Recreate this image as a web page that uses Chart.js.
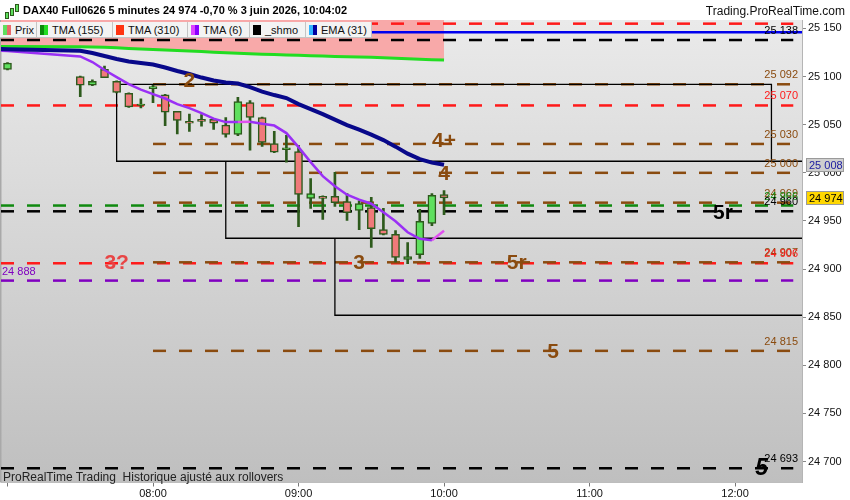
<!DOCTYPE html>
<html>
<head>
<meta charset="utf-8">
<script src="https://cdn.jsdelivr.net/npm/chart.js@4.4.1/dist/chart.umd.min.js"></script>
<style>
html, body { margin: 0; padding: 0; background: #fff; }
#wrap { position: relative; width: 850px; height: 500px; overflow: hidden; font-family: "Liberation Sans", Arial, sans-serif; }
canvas { position: absolute; left: 0; top: 0; }
#icon span { position: absolute; border: 1px solid #2d5a1c; background: #5fe05f; }
#title { position: absolute; left: 23px; top: 4px; font-weight: bold; font-size: 11px; color: #000; white-space: nowrap; }
#site { position: absolute; right: 5px; top: 4px; font-size: 12px; color: #111; white-space: nowrap; }
#legend { position: absolute; left: 0; top: 22px; height: 16px; display: flex; background: #f3f3f3; }
.item { box-sizing: border-box; display: flex; align-items: center; height: 16px; padding-left: 3px; border-right: 1px solid #c4c4c4; border-bottom: 1px solid #c4c4c4; font-size: 11px; color: #111; white-space: nowrap; }
.sw { width: 8px; height: 10px; margin-right: 4px; display: flex; }
.sw i { flex: 1; }
#note { position: absolute; left: 3px; top: 470px; font-size: 12px; font-family: "Liberation Sans Narrow", "Arial Narrow", sans-serif; color: #222; white-space: nowrap; }
</style>
</head>
<body>
<div id="wrap">
  <canvas id="chart" width="850" height="500"></canvas>
  <div id="icon">
    <span style="left:5px;top:12px;width:2px;height:5px"></span>
    <span style="left:10px;top:8px;width:2px;height:6px"></span>
    <span style="left:15px;top:4px;width:2px;height:6px"></span>
  </div>
  <div id="title">DAX40 Full0626 5 minutes 24 974 -0,70 % 3 juin 2026, 10:04:02</div>
  <div id="site">Trading.ProRealTime.com</div>
  <div id="legend">
    <div class="item" style="width:37px"><span class="sw"><i style="background:#5fe05f"></i><i style="background:#e86a6a"></i></span>Prix</div>
    <div class="item" style="width:76px"><span class="sw"><i style="background:#0a8a0a"></i><i style="background:#22dd22"></i></span>TMA (155)</div>
    <div class="item" style="width:75px"><span class="sw"><i style="background:#ff3311"></i><i style="background:#ff3311"></i></span>TMA (310)</div>
    <div class="item" style="width:62px"><span class="sw"><i style="background:#dd44ff"></i><i style="background:#8a00ff"></i></span>TMA (6)</div>
    <div class="item" style="width:56px"><span class="sw"><i style="background:#000"></i><i style="background:#000"></i></span>_shmo</div>
    <div class="item" style="width:66px"><span class="sw"><i style="background:#33b5ff"></i><i style="background:#0000a0"></i></span>EMA (31)</div>
  </div>
  <div id="note">ProRealTime Trading&nbsp; Historique ajusté aux rollovers</div>
</div>
<script>
// 5 minute candles
const candleTimes = ['07:00','07:30','07:35','07:40','07:45','07:50','07:55','08:00','08:05','08:10','08:15','08:20','08:25','08:30','08:35','08:40','08:45','08:50','08:55','09:00','09:05','09:10','09:15','09:20','09:25','09:30','09:35','09:40','09:45','09:50','09:55','10:00'];
const opens  = [25107.5,25100,25091,25107.5,25095,25082.5,25070,25087.5,25081,25064,25053.5,25055.5,25055.5,25049.5,25040,25073,25057.5,25030.5,25024,25022,24973.5,24975.5,24975.5,24970,24961,24964,24941,24936,24910,24915,24947.5,24977.5];
const highs  = [25114.5,25100.5,25096.5,25111,25095.5,25083,25077,25091,25081.5,25064,25061,25060.5,25056,25057.5,25078.5,25075,25058,25043,25039,25028.5,24994,24976,25000.5,24978.5,24971,24974.5,24963,24940,24927.5,24962,24978.5,24981.5];
const lows   = [25107,25079,25090.5,25099,25083,25068,25067.5,25073,25049,25040.5,25043,25048.5,25045,25037,25038.5,25023.5,25027.5,25021,25011,24944,24963,24951.5,24965,24950.5,24941,24922.5,24935.5,24907.5,24905.5,24911,24945,24956.5];
const closes = [25114,25091,25095,25099,25083.5,25068.5,25071.5,25089.5,25063,25054.5,25051.5,25053.5,25051.5,25040,25074,25057.5,25031.5,25021.5,25026,24977.5,24978.5,24973.5,24969,24958.5,24968,24942,24936,24912,24913,24949.5,24976.5,24974];

// indicators
const lineTimes = ['06:55'].concat(candleTimes);
const ema31  = [25128.7,25128.4,25126.9,25124.5,25121.4,25118.3,25115.7,25114.1,25112.5,25109.4,25105.8,25102.7,25099.0,25095.9,25093.8,25092.8,25089.1,25084.4,25080.8,25077.7,25071.4,25066.2,25061.0,25055.3,25049.6,25044.9,25039.7,25034.0,25027.2,25019.9,25014.2,25010.6,25008.3];
const tma6   = [25127.1,25126.6,25120.9,25115.1,25106.8,25099.5,25092.2,25086.5,25081.8,25077.2,25071.4,25067.3,25062.1,25056.3,25052.7,25052.7,25053.0,25051.1,25049.1,25041.3,25026.7,25011.1,24996.5,24986.1,24977.3,24972.1,24967.9,24959.1,24949.7,24938.2,24931.5,24929.9,24939.8];
const tma155 = [25131.3,25131.2,25131.1,25130.8,25130.4,25129.9,25129.3,25128.7,25128.2,25127.7,25127.2,25126.6,25126.0,25125.4,25124.8,25124.3,25123.8,25123.3,25122.9,25122.5,25122.1,25121.7,25121.3,25121.0,25120.7,25120.4,25120.0,25119.6,25119.1,25118.6,25118.1,25117.6,25117.2];
const tma310 = [25192,25192,25191,25191,25190,25190,25190,25189,25189,25189,25188,25188,25188,25187,25187,25187,25186,25186,25186,25185,25185,25185,25184,25184,25184,25183,25183,25183,25182,25182,25182,25181,25181];

// horizontal levels (start null = left edge)
const levelValues = [25155, 25146, 25138, 25092, 25070, 25030, 25000, 24969, 24966, 24960, 24907, 24906, 24888, 24815, 24693];
const levelColors = ['#ff1a1a','#0000ee','#000000','#8a4b0f','#ff1a1a','#8a4b0f','#8a4b0f','#8a4b0f','#108a10','#000000','#8a4b0f','#ff1a1a','#8000c0','#8a4b0f','#000000'];
const levelStarts = [null, null, null, '08:00', null, '08:00', '08:00', '08:00', null, null, '08:00', null, null, '08:00', null];
const levelDashed = [true, false, true, true, true, true, true, true, true, true, true, true, true, true, true];
const levelLabelSide = ['right','none','right','right','right','right','right','right','right','right','right','right','left','right','right'];

// stepped boxes
const boxStarts = ['07:45', '08:30', '09:15'];
const boxTops = [25092, 25012, 24932];
const boxBottoms = [25012, 24932, 24852];
const firstBoxEnd = '12:15';

// hand written marks
const noteTexts  = ['2', '4+', '4', '5r', '3?', '3', '5r', '5', '5'];
const noteTimes  = ['08:15', '10:00', '10:00', '11:55', '07:45', '09:25', '10:30', '10:45', '12:11'];
const noteValues = [25096, 25034, 25000, 24959, 24907, 24907, 24907, 24815, 24694];
const noteColors = ['#8a4b0f','#8a4b0f','#8a4b0f','#000000','#e84545','#8a4b0f','#8a4b0f','#8a4b0f','#000000'];

const xTickTimes = ['07:00', '08:00', '09:00', '10:00', '11:00', '12:00'];
const yTicks = [24700, 24750, 24800, 24850, 24900, 24950, 25000, 25050, 25100, 25150];

const toMin = s => { const p = s.split(':').map(Number); return p[0] * 60 + p[1]; };
const fmt = v => String(Math.round(v)).replace(/\B(?=(\d{3})+(?!\d))/g, ' ');

const X_MIN = 417.32, X_MAX = 747.6;
const Y_MIN = 24678.2, Y_MAX = 25158.8;
const LEVEL_END = toMin('12:24');

const datasets = [];

// lines (drawn on top)
datasets.push({
    label: 'EMA (31)',
    data: lineTimes.map((t, i) => ({ x: toMin(t), y: ema31[i] })),
    borderColor: '#08088a', borderWidth: 4, pointRadius: 0, order: 0
});
datasets.push({
    label: 'TMA (6)',
    data: lineTimes.map((t, i) => ({ x: toMin(t), y: tma6[i] })),
    borderColor: '#9a30f5', borderWidth: 2.5, pointRadius: 0, order: 0,
    segment: { borderColor: c => c.p1.parsed.y > c.p0.parsed.y ? '#e050f0' : '#9a30f5' }
});

// pink band between TMA 310 and TMA 155
datasets.push({
    label: 'TMA (310)',
    data: lineTimes.map((t, i) => ({ x: toMin(t), y: tma310[i] })),
    borderColor: '#ff2200', borderWidth: 2, pointRadius: 0, order: 6,
    fill: '+1', backgroundColor: '#f8a9a9'
});
datasets.push({
    label: 'TMA (155)',
    data: lineTimes.map((t, i) => ({ x: toMin(t), y: tma155[i] })),
    borderColor: '#22dd22', borderWidth: 3, pointRadius: 0, order: 0
});

// candles: wick then body
datasets.push({
    type: 'bar', label: 'wick',
    data: candleTimes.map((t, i) => ({ x: toMin(t), y: [lows[i], highs[i]] })),
    backgroundColor: '#2d5a1c', borderWidth: 0, barThickness: 2, grouped: false, order: 2
});
datasets.push({
    type: 'bar', label: 'Prix',
    data: candleTimes.map((t, i) => ({ x: toMin(t), y: [opens[i], closes[i]] })),
    backgroundColor: ctx => closes[ctx.dataIndex] >= opens[ctx.dataIndex] ? '#5fe05f' : '#f07a7a',
    borderColor: '#2d5a1c', borderWidth: 1.5, borderSkipped: false,
    barThickness: 8, grouped: false, order: 1
});

// levels
levelValues.forEach((v, i) => {
    const start = levelStarts[i] ? toMin(levelStarts[i]) : X_MIN;
    const end = levelDashed[i] ? LEVEL_END : X_MAX;
    datasets.push({
        label: 'level ' + v,
        data: [{ x: start, y: v }, { x: end, y: v }],
        borderColor: levelColors[i], borderWidth: 2.5,
        borderDash: levelDashed[i] ? [13, 13] : [], pointRadius: 0, order: 4
    });
});

// boxes
boxStarts.forEach((s, i) => {
    const pts = [
        { x: X_MAX, y: boxBottoms[i] },
        { x: toMin(s), y: boxBottoms[i] },
        { x: toMin(s), y: boxTops[i] }
    ];
    if (i === 0) {
        pts.push({ x: toMin(firstBoxEnd), y: boxTops[i] });
        pts.push({ x: toMin(firstBoxEnd), y: boxBottoms[i] });
    }
    datasets.push({
        label: 'box ' + i, data: pts,
        borderColor: '#000', borderWidth: 1.3, pointRadius: 0, order: 3
    });
});

const backdrop = {
    id: 'backdrop',
    beforeDraw(chart) {
        const { ctx, chartArea: a } = chart;
        const g = ctx.createLinearGradient(0, a.top, 0, a.bottom);
        g.addColorStop(0, '#eaeaea');
        g.addColorStop(1, '#bfbfbf');
        ctx.save();
        ctx.fillStyle = g;
        ctx.fillRect(a.left, a.top, a.right - a.left, a.bottom - a.top);
        ctx.fillStyle = '#a9a9a9';
        ctx.fillRect(0, a.top, 1.5, a.bottom - a.top);
        ctx.restore();
    }
};

const marks = {
    id: 'marks',
    afterDatasetsDraw(chart) {
        const { ctx, chartArea: a, scales: { x, y } } = chart;
        ctx.save();
        ctx.beginPath();
        ctx.rect(a.left, a.top, a.right - a.left, a.bottom - a.top);
        ctx.clip();
        // level labels
        ctx.font = '11px "Liberation Sans", Arial, sans-serif';
        ctx.textBaseline = 'middle';
        levelValues.forEach((v, i) => {
            const side = levelLabelSide[i];
            if (side === 'none') return;
            ctx.fillStyle = levelColors[i];
            const py = y.getPixelForValue(v) - 9;
            if (side === 'left') {
                ctx.textAlign = 'left';
                ctx.fillText(fmt(v), a.left + 1, py);
            } else {
                ctx.textAlign = 'right';
                ctx.fillText(fmt(v), a.right - 4, py);
            }
        });
        // hand written marks
        ctx.textAlign = 'center';
        noteTexts.forEach((t, i) => {
            const last = i === noteTexts.length - 1;
            ctx.font = (last ? 'italic bold 23px' : 'bold 21px') + ' "Liberation Sans", Arial, sans-serif';
            ctx.fillStyle = noteColors[i];
            ctx.fillText(t, x.getPixelForValue(toMin(noteTimes[i])), y.getPixelForValue(noteValues[i]) + 1);
        });
        ctx.restore();
    },
    afterDraw(chart) {
        const { ctx, chartArea: a, scales: { y } } = chart;
        const boxes = [
            [ema31[ema31.length - 1], '#cfcfcf', '#1a1aa0'],
            [closes[closes.length - 1], '#ffd700', '#000']
        ];
        ctx.save();
        ctx.font = '11px "Liberation Sans", Arial, sans-serif';
        ctx.textBaseline = 'middle';
        ctx.textAlign = 'left';
        boxes.forEach(([v, bg, fg]) => {
            const py = Math.round(y.getPixelForValue(v));
            ctx.fillStyle = bg;
            ctx.fillRect(a.right + 4, py - 7, 38, 14);
            ctx.strokeStyle = '#9a9a9a';
            ctx.lineWidth = 1;
            ctx.strokeRect(a.right + 4.5, py - 6.5, 37, 13);
            ctx.fillStyle = fg;
            ctx.fillText(fmt(v), a.right + 7, py + 0.5);
        });
        ctx.restore();
    }
};

new Chart(document.getElementById('chart').getContext('2d'), {
    type: 'line',
    data: { datasets },
    options: {
        responsive: false,
        animation: false,
        events: [],
        layout: { padding: { left: 1, top: 20, right: 0, bottom: 0 } },
        plugins: { legend: { display: false }, tooltip: { enabled: false } },
        scales: {
            x: {
                type: 'linear', min: X_MIN, max: X_MAX, offset: false,
                afterFit: s => { s.height = 17.5; },
                afterBuildTicks: s => { s.ticks = xTickTimes.map(t => ({ value: toMin(t) })); },
                grid: { drawOnChartArea: false, offset: false, tickLength: 4, color: '#777' },
                border: { color: '#bdbdbd' },
                ticks: {
                    padding: 1, maxRotation: 0, autoSkip: false, color: '#111',
                    font: { size: 11, family: '"Liberation Sans", Arial, sans-serif' },
                    callback: v => {
                        const t = xTickTimes.find(s => toMin(s) === v);
                        return t === '07:00' ? '' : t;
                    }
                }
            },
            y: {
                type: 'linear', position: 'right', min: Y_MIN, max: Y_MAX,
                afterFit: s => { s.width = 48; },
                afterBuildTicks: s => { s.ticks = yTicks.map(v => ({ value: v })); },
                grid: { drawOnChartArea: false, offset: false, tickLength: 4, color: '#888' },
                border: { color: '#b5b5b5' },
                ticks: {
                    padding: 2, color: '#111',
                    font: { size: 11, family: '"Liberation Sans", Arial, sans-serif' },
                    callback: v => fmt(v)
                }
            }
        }
    },
    plugins: [backdrop, marks]
});
</script>
</body>
</html>
